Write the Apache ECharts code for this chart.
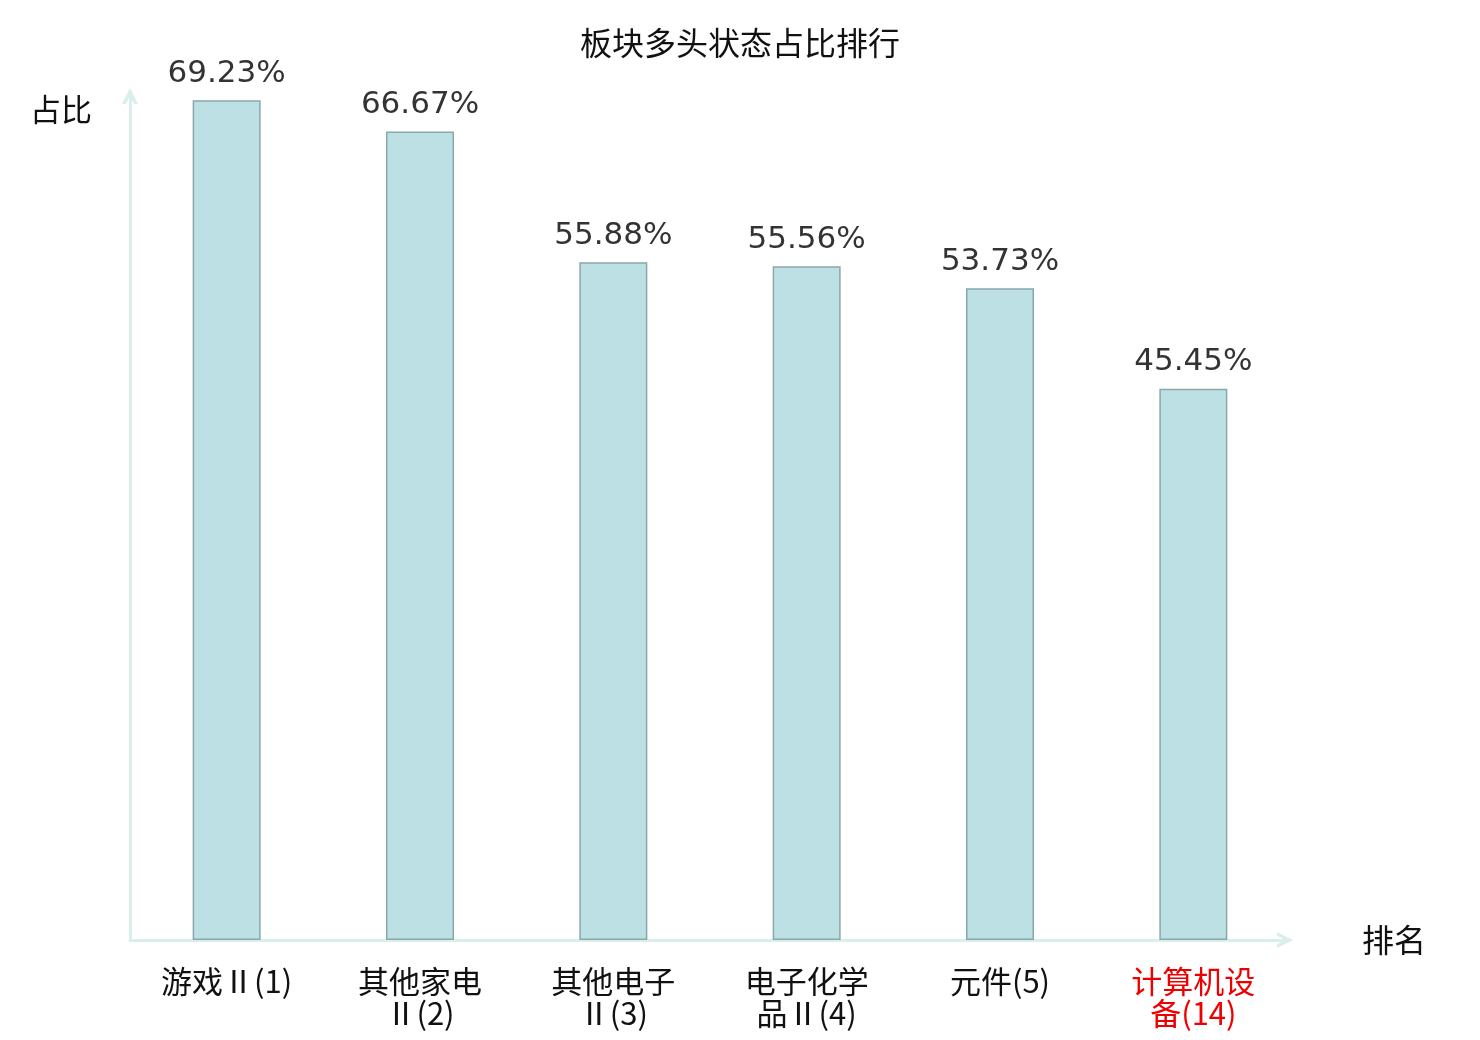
<!DOCTYPE html>
<html>
<head>
<meta charset="utf-8">
<script src="https://cdn.jsdelivr.net/npm/echarts@6/dist/echarts.min.js"></script>
<style>
html, body { margin: 0; padding: 0; background: #fff; }
#container { width: 1480px; height: 1040px; }
</style>
</head>
<body>
<div id="container"></div>
<script>
var categories = ['游戏Ⅱ(1)', '其他家电Ⅱ(2)', '其他电子Ⅱ(3)', '电子化学品Ⅱ(4)', '元件(5)', '计算机设备(14)'];
var values = [69.23, 66.67, 55.88, 55.56, 53.73, 45.45];
var highlightIndex = 5;

var dom = document.getElementById('container');
var myChart = echarts.init(dom);

var cjk = '"Noto Sans CJK SC", "DejaVu Sans", sans-serif';
// open chevron, like the reference's axis arrows
var arrowPath = 'path://M0,10 L5,0 L10,10 L7.6,10 L5,4.8 L2.4,10 Z';
var axisColor = '#d8efeb';

var option = {
    backgroundColor: '#fff',
    animation: false,
    title: {
        text: '板块多头状态占比排行',
        left: 'center',
        top: 22,
        textStyle: { fontFamily: cjk, fontSize: 32, fontWeight: 'normal', color: '#111' }
    },
    grid: { left: 130, right: 190, top: 91, bottom: 100 },
    xAxis: {
        type: 'category',
        data: categories.map(function (c, i) {
            return i === highlightIndex ? { value: c, textStyle: { color: '#ee0000' } } : c;
        }),
        name: '排名',
        nameGap: 72,
        nameTextStyle: { fontFamily: cjk, fontSize: 32, color: '#111', align: 'left' },
        axisLine: {
            show: true,
            symbol: ['none', arrowPath],
            symbolSize: [24, 16],
            symbolOffset: [0, -5],
            lineStyle: { color: axisColor, width: 3 }
        },
        axisTick: { show: false },
        axisLabel: {
            fontFamily: cjk,
            fontSize: 31,
            color: '#111',
            margin: 25,
            lineHeight: 32,
            width: 150,
            overflow: 'break',
            interval: 0
        }
    },
    yAxis: {
        type: 'value',
        min: 0,
        max: 70,
        name: '占比',
        nameLocation: 'end',
        nameGap: -34,
        nameTextStyle: { fontFamily: cjk, fontSize: 31, color: '#111', align: 'right', padding: [0, 38, 0, 0] },
        axisLine: {
            show: true,
            symbol: ['none', arrowPath],
            symbolSize: [24, 16],
            symbolOffset: [0, -5],
            lineStyle: { color: axisColor, width: 3 }
        },
        axisTick: { show: false },
        axisLabel: { show: false },
        splitLine: { show: false }
    },
    series: [{
        type: 'bar',
        data: values,
        barWidth: 68,
        itemStyle: { color: '#bce0e3', borderColor: '#8aa8aa', borderWidth: 1.5 },
        label: {
            show: true,
            position: 'top',
            distance: 11,
            formatter: function (p) { return p.value.toFixed(2) + '%'; },
            fontFamily: '"DejaVu Sans", sans-serif',
            fontSize: 31,
            color: '#333'
        }
    }]
};

myChart.setOption(option, true);
</script>
</body>
</html>
